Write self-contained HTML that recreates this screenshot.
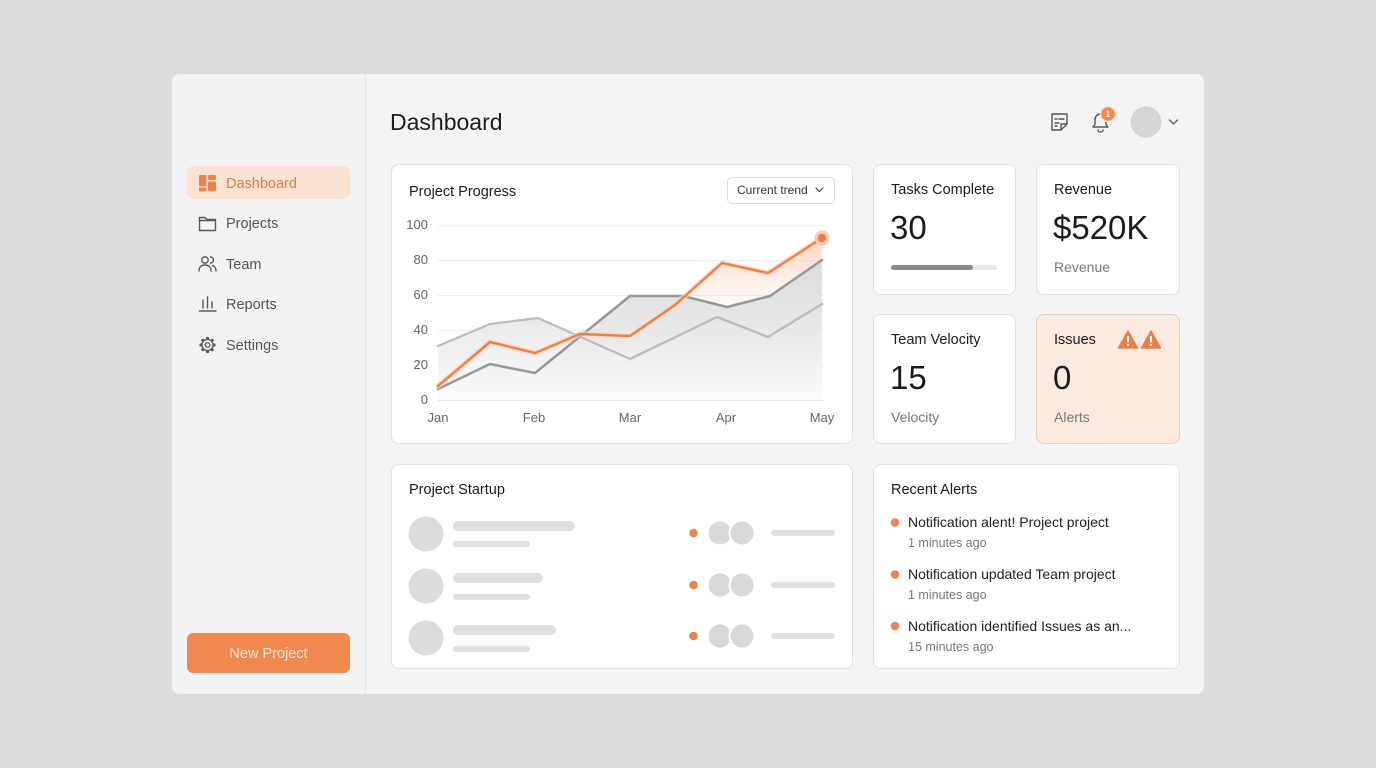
<!DOCTYPE html>
<html><head><meta charset="utf-8">
<style>
*{margin:0;padding:0;box-sizing:border-box}
body{width:1376px;height:768px;background:#dcdcdc;font-family:"Liberation Sans",Arial,sans-serif;position:relative;overflow:hidden}
.a{position:absolute;white-space:nowrap}
.panel{left:172px;top:74px;width:1032px;height:620px;background:#f4f4f4;border-radius:8px}
.side{left:172px;top:74px;width:194px;height:620px;border-right:1px solid #e3e3e3;background:#f3f3f3;border-radius:8px 0 0 8px}
.card{position:absolute;background:#fff;border:1px solid #e2e2e2;border-radius:8px}
.nav{left:226px;font-size:14.5px;color:#555;line-height:20px}
.ct{font-size:14.5px;color:#1c1c1c;line-height:20px}
.val{font-size:33px;color:#1c1c1c;line-height:40px}
.sub{font-size:14px;color:#777;line-height:20px}
.yl{left:380px;width:48px;text-align:right;font-size:13px;color:#666;line-height:16px}
.xl{width:50px;text-align:center;font-size:13px;color:#666;line-height:16px}
.al{left:908px;font-size:14px;color:#222;line-height:18px}
.tm{left:908px;font-size:12.5px;color:#777;line-height:16px}
</style></head><body>
<div class="a panel"></div>
<div class="a side"></div>

<div class="a" style="left:187px;top:166px;width:163px;height:33px;background:#fce2d2;border-radius:7px"></div>
<div class="a" style="left:187px;top:633px;width:163px;height:40px;background:#f0884f;border-radius:6px"></div>

<div class="card" style="left:391px;top:164px;width:462px;height:280px"></div>
<div class="card" style="left:873px;top:164px;width:143px;height:131px"></div>
<div class="card" style="left:1036px;top:164px;width:144px;height:131px"></div>
<div class="card" style="left:873px;top:314px;width:143px;height:130px"></div>
<div class="card" style="left:1036px;top:314px;width:144px;height:130px;background:#fce9df;border-color:#f4c8ae"></div>
<div class="card" style="left:391px;top:464px;width:462px;height:205px"></div>
<div class="card" style="left:873px;top:464px;width:307px;height:205px"></div>
<div class="a" style="left:727px;top:177px;width:108px;height:27px;border:1px solid #dcdcdc;border-radius:5px;background:#fff"></div>

<svg class="a" style="left:0;top:0" width="1376" height="768" viewBox="0 0 1376 768">
<defs>
<linearGradient id="gg" gradientUnits="userSpaceOnUse" x1="0" y1="255" x2="0" y2="402">
<stop offset="0" stop-color="#dadada"/><stop offset="0.6" stop-color="#ebebeb"/><stop offset="1" stop-color="#fcfcfc"/></linearGradient>
<linearGradient id="gl" gradientUnits="userSpaceOnUse" x1="0" y1="300" x2="0" y2="402">
<stop offset="0" stop-color="#e6e6e6"/><stop offset="1" stop-color="#fbfbfb"/></linearGradient>
<linearGradient id="og" gradientUnits="userSpaceOnUse" x1="0" y1="236" x2="0" y2="320">
<stop offset="0" stop-color="#f9cdb2" stop-opacity="0.9"/><stop offset="1" stop-color="#fde6d9" stop-opacity="0"/></linearGradient>
</defs>
<!-- sidebar icons -->
<g fill="#e8844f">
<rect x="199" y="175" width="7.5" height="11.5" rx="1.2"/><rect x="199" y="187.5" width="7.5" height="4" rx="1.2"/>
<rect x="208" y="175" width="8" height="5" rx="1.2"/><rect x="208" y="181.5" width="8" height="10" rx="1.2"/>
</g>
<g fill="none" stroke="#5a5a5a" stroke-width="1.4" stroke-linejoin="round" stroke-linecap="round">
<path d="M199.5 217.5 h5.5 l2 2 h8.5 v11 h-16 z"/>
<path d="M199.5 220.5 h16"/>
<circle cx="205" cy="260" r="3.2"/>
<path d="M199 271 c0-4 2.5-6 6-6 s6 2 6 6"/>
<path d="M210.5 257 a3 3 0 0 1 0 6"/>
<path d="M212.5 265.5 c2 .7 3.5 2.5 3.5 5.5"/>
<path d="M203 300 v8 M207.5 297 v11 M212 302 v6"/>
<path d="M199.5 311 h16.5"/>
</g>
<!-- gear -->
<g fill="#5a5a5a">
<circle cx="207.5" cy="345" r="6.2"/>
<g>
<rect x="206" y="337" width="3" height="3" rx="0.6"/>
<rect x="206" y="337" width="3" height="3" rx="0.6" transform="rotate(45 207.5 345)"/>
<rect x="206" y="337" width="3" height="3" rx="0.6" transform="rotate(90 207.5 345)"/>
<rect x="206" y="337" width="3" height="3" rx="0.6" transform="rotate(135 207.5 345)"/>
<rect x="206" y="337" width="3" height="3" rx="0.6" transform="rotate(180 207.5 345)"/>
<rect x="206" y="337" width="3" height="3" rx="0.6" transform="rotate(225 207.5 345)"/>
<rect x="206" y="337" width="3" height="3" rx="0.6" transform="rotate(270 207.5 345)"/>
<rect x="206" y="337" width="3" height="3" rx="0.6" transform="rotate(315 207.5 345)"/>
</g>
</g>
<circle cx="207.5" cy="345" r="4.9" fill="#f3f3f3"/>
<circle cx="207.5" cy="345" r="2.4" fill="none" stroke="#5a5a5a" stroke-width="1.3"/>
<!-- header icons -->
<g fill="none" stroke="#555" stroke-width="1.4" stroke-linejoin="round" stroke-linecap="round">
<path d="M1052 114 h15 v10 l-6 6 h-9 z"/>
<path d="M1061 130 v-6 h6"/>
<path d="M1055 119 h2 M1059 119 h5 M1055 123 h4 M1055 126 h2"/>
<path d="M1093 127 h15 l-2 -2.5 v-5 a5.5 5.5 0 0 0 -11 0 v5 z"/>
<path d="M1098 130 a2.5 2 0 0 0 5 0"/>
<path d="M1169.5 120 l4 4 l4 -4" stroke="#666"/>
<path d="M816 188 l3.5 3.5 l3.5 -3.5" stroke="#444" stroke-width="1.2"/>
</g>
<circle cx="1108" cy="114" r="7.5" fill="#ef8a53" stroke="#f8e3d6" stroke-width="1.5"/>
<circle cx="1146" cy="122" r="15.5" fill="#d6d6d6"/>
<!-- warnings -->
<g fill="#e8804a">
<path d="M1128 331 l9.5 17 h-19 z" stroke="#e8804a" stroke-width="1.5" stroke-linejoin="round"/>
<path d="M1151 331 l9.5 17 h-19 z" stroke="#e8804a" stroke-width="1.5" stroke-linejoin="round"/>
</g>
<g fill="#fff">
<rect x="1127" y="336" width="2" height="6.5" rx="1"/><circle cx="1128" cy="345" r="1.1"/>
<rect x="1150" y="336" width="2" height="6.5" rx="1"/><circle cx="1151" cy="345" r="1.1"/>
</g>
<!-- progress bar -->
<rect x="891" y="265" width="106" height="5" rx="2.5" fill="#e9e9e9"/>
<rect x="891" y="265" width="82" height="5" rx="2.5" fill="#8a8a8a"/>
<!-- chart grid -->
<g stroke="#ececec" stroke-width="1">
<line x1="438" x2="824" y1="225.5" y2="225.5"/>
<line x1="438" x2="824" y1="260.5" y2="260.5"/>
<line x1="438" x2="824" y1="295.5" y2="295.5"/>
<line x1="438" x2="824" y1="330.5" y2="330.5"/>
<line x1="438" x2="824" y1="365.5" y2="365.5"/>
<line x1="438" x2="824" y1="400.5" y2="400.5" stroke="#e6e6e6"/>
</g>
<!-- fills -->
<polygon fill="url(#gl)" points="438,346 490,324 538,318 630,359 717,317 768,337 822,304 822,400 438,400"/>
<polygon fill="url(#og)" points="438,386 490,342 535,353 580,334 630,336 675,305 722,263 768,273 822,238 822,400 438,400"/>
<polygon fill="url(#gg)" points="438,389 490,364 535,373 630,296 683,296 727,307 770,296 822,260 822,400 438,400"/>
<!-- lines -->
<g fill="none" stroke-linejoin="round" stroke-linecap="round">
<polyline stroke="#bcbcbc" stroke-width="2.3" points="438,346 490,324 538,318 630,359 717,317 768,337 822,304"/>
<polyline stroke="#979797" stroke-width="2.5" points="438,389 490,364 535,373 630,296 683,296 727,307 770,296 822,260"/>
<polyline stroke="#fbd3bc" stroke-width="6" opacity="0.6" points="438,386 490,342 535,353 580,334 630,336 675,305 722,263 768,273 822,238"/>
<polyline stroke="#e6844f" stroke-width="2.5" points="438,386 490,342 535,353 580,334 630,336 675,305 722,263 768,273 822,238"/>
</g>
<circle cx="822" cy="238" r="7.5" fill="#f9c8ab" opacity="0.9"/>
<circle cx="822" cy="238" r="4.2" fill="#e6804a"/>
<!-- startup skeleton -->
<g fill="#dcdcdc">
<circle cx="426" cy="534" r="17.5"/><circle cx="426" cy="586" r="17.5"/><circle cx="426" cy="638" r="17.5"/>
</g>
<g fill="#e0e0e0">
<rect x="453" y="521" width="122" height="10" rx="5"/><rect x="453" y="541" width="77" height="6" rx="3"/>
<rect x="453" y="573" width="90" height="10" rx="5"/><rect x="453" y="594" width="77" height="6" rx="3"/>
<rect x="453" y="625" width="103" height="10" rx="5"/><rect x="453" y="646" width="77" height="6" rx="3"/>
<rect x="771" y="530" width="64" height="6" rx="3"/>
<rect x="771" y="582" width="64" height="6" rx="3"/>
<rect x="771" y="633" width="64" height="6" rx="3"/>
</g>
<g fill="#e8844f">
<circle cx="693.5" cy="533" r="4.3"/><circle cx="693.5" cy="585" r="4.3"/><circle cx="693.5" cy="636" r="4.3"/>
</g>
<g fill="#d9d9d9" stroke="#fff" stroke-width="2">
<circle cx="720" cy="533" r="12.5"/><circle cx="742" cy="533" r="12.5"/>
<circle cx="720" cy="585" r="12.5"/><circle cx="742" cy="585" r="12.5"/>
<circle cx="720" cy="636" r="12.5"/><circle cx="742" cy="636" r="12.5"/>
</g>
<!-- alert dots -->
<g fill="#e8845a">
<circle cx="895" cy="522.5" r="4.3"/><circle cx="895" cy="574.5" r="4.3"/><circle cx="895" cy="626" r="4.3"/>
</g>
</svg>

<!-- sidebar text -->
<div class="a nav" style="top:174px;color:#e07b45">Dashboard</div>
<div class="a nav" style="top:214px">Projects</div>
<div class="a nav" style="top:255px">Team</div>
<div class="a nav" style="top:295px">Reports</div>
<div class="a nav" style="top:336px">Settings</div>
<div class="a" style="left:187px;top:644px;width:163px;text-align:center;font-size:14.5px;line-height:20px;color:#fde6d7">New Project</div>

<div class="a" style="left:390px;top:107px;font-size:23px;line-height:30px;color:#1d1d1d">Dashboard</div>
<div class="a" style="left:1103px;top:108px;width:10px;text-align:center;font-size:9px;line-height:12px;color:#fff">1</div>

<div class="a ct" style="left:409px;top:182px">Project Progress</div>
<div class="a" style="left:737px;top:182px;font-size:12px;line-height:16px;color:#333">Current trend</div>

<div class="a yl" style="top:217px">100</div>
<div class="a yl" style="top:252px">80</div>
<div class="a yl" style="top:287px">60</div>
<div class="a yl" style="top:322px">40</div>
<div class="a yl" style="top:357px">20</div>
<div class="a yl" style="top:392px">0</div>
<div class="a xl" style="left:413px;top:410px">Jan</div>
<div class="a xl" style="left:509px;top:410px">Feb</div>
<div class="a xl" style="left:605px;top:410px">Mar</div>
<div class="a xl" style="left:701px;top:410px">Apr</div>
<div class="a xl" style="left:797px;top:410px">May</div>

<div class="a ct" style="left:891px;top:180px">Tasks Complete</div>
<div class="a val" style="left:890px;top:208px">30</div>

<div class="a ct" style="left:1054px;top:180px">Revenue</div>
<div class="a val" style="left:1053px;top:208px">$520K</div>
<div class="a sub" style="left:1054px;top:257px">Revenue</div>

<div class="a ct" style="left:891px;top:330px">Team Velocity</div>
<div class="a val" style="left:890px;top:358px">15</div>
<div class="a sub" style="left:891px;top:407px">Velocity</div>

<div class="a ct" style="left:1054px;top:330px">Issues</div>
<div class="a val" style="left:1053px;top:358px">0</div>
<div class="a sub" style="left:1054px;top:407px">Alerts</div>

<div class="a ct" style="left:409px;top:480px">Project Startup</div>
<div class="a ct" style="left:891px;top:480px">Recent Alerts</div>

<div class="a al" style="top:513px">Notification alent! Project project</div>
<div class="a tm" style="top:535px">1 minutes ago</div>
<div class="a al" style="top:565px">Notification updated Team project</div>
<div class="a tm" style="top:587px">1 minutes ago</div>
<div class="a al" style="top:617px">Notification identified Issues as an...</div>
<div class="a tm" style="top:639px">15 minutes ago</div>
</body></html>
